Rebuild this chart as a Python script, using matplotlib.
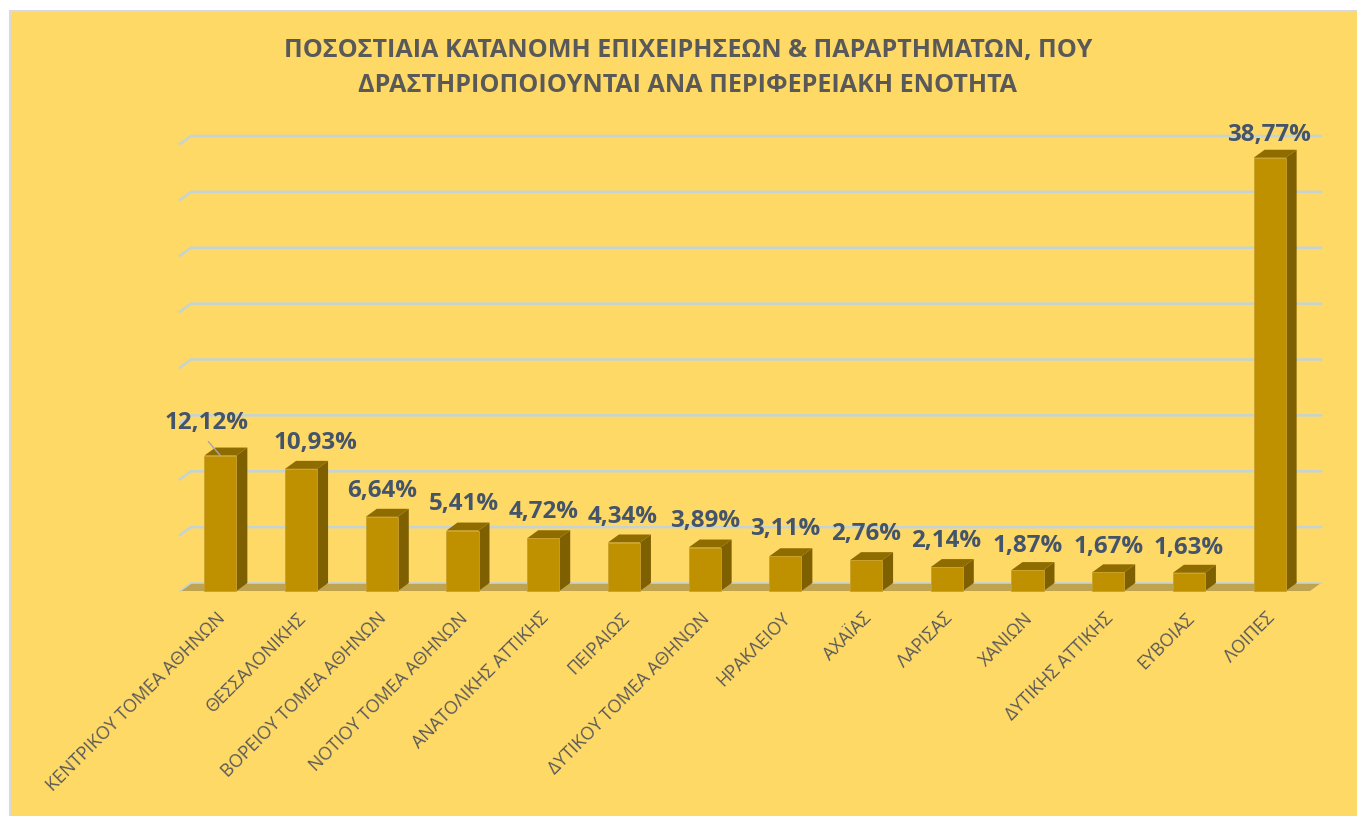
import matplotlib
matplotlib.use("Agg")
import matplotlib.pyplot as plt
from matplotlib.patches import Polygon, Rectangle
from matplotlib.transforms import ScaledTranslation

W, H = 1357, 816

categories = ["ΚΕΝΤΡΙΚΟΥ ΤΟΜΕΑ ΑΘΗΝΩΝ", "ΘΕΣΣΑΛΟΝΙΚΗΣ", "ΒΟΡΕΙΟΥ ΤΟΜΕΑ ΑΘΗΝΩΝ",
              "ΝΟΤΙΟΥ ΤΟΜΕΑ ΑΘΗΝΩΝ", "ΑΝΑΤΟΛΙΚΗΣ ΑΤΤΙΚΗΣ", "ΠΕΙΡΑΙΩΣ",
              "ΔΥΤΙΚΟΥ ΤΟΜΕΑ ΑΘΗΝΩΝ", "ΗΡΑΚΛΕΙΟΥ", "ΑΧΑΪΑΣ", "ΛΑΡΙΣΑΣ", "ΧΑΝΙΩΝ",
              "ΔΥΤΙΚΗΣ ΑΤΤΙΚΗΣ", "ΕΥΒΟΙΑΣ", "ΛΟΙΠΕΣ"]
values = [12.12, 10.93, 6.64, 5.41, 4.72, 4.34, 3.89, 3.11, 2.76, 2.14, 1.87, 1.67, 1.63, 38.77]
labels = ["12,12%", "10,93%", "6,64%", "5,41%", "4,72%", "4,34%", "3,89%", "3,11%",
          "2,76%", "2,14%", "1,87%", "1,67%", "1,63%", "38,77%"]
grid_values = [5, 10, 15, 20, 25, 30, 35, 40]

# label shift from the bar top, in pixels
label_dx = [-14, 14, 0, 1, 0, -1, 0, 0, 0, -1, 0, 0, 0, -1]
label_dy = [33, 26, 26, 27, 26, 26, 27, 27, 26, 26, 24, 25, 25, 23]

BG = "#FFD966"
FRONT = "#BF9000"
SIDE = "#7F6000"
TOP = "#8F6C00"
FLOOR = "#BFA34F"
GRID = "#C3D3D6"
LABEL = "#44546A"
TEXT = "#595959"

plt.rcParams["font.family"] = ["Open Sans", "DejaVu Sans"]

fig = plt.figure(figsize=(W / 100, H / 100), dpi=100, facecolor="white")
# card runs off the right and bottom edge of the image
fig.add_artist(Rectangle((10 / W, -5 / H), (W - 5) / W, (H - 6) / H, transform=fig.transFigure,
                         facecolor=BG, edgecolor="#D9D9D9", linewidth=1.5, zorder=-1))

# plot area in pixels: x 180-1310, value 0 at y=591, value 40 at y=144
left, right, y0, y40 = 180, 1310, 591, 144
ax = fig.add_axes([left / W, 1 - y0 / H, (right - left) / W, (y0 - y40) / H])
ax.set_xlim(0, len(categories))
ax.set_ylim(0, 40)
ax.patch.set_alpha(0)
for s in ax.spines.values():
    s.set_visible(False)

# 3d depth in data units
dx = 11 / ((right - left) / len(categories))
dy = 8 / ((y0 - y40) / 40)
n = len(categories)
bar_w = 32 / ((right - left) / n)

ax.add_patch(Polygon([(0, 0), (dx, dy), (n + dx, dy), (n, 0)], facecolor=FLOOR, edgecolor="none",
                     clip_on=False, zorder=1))
ax.plot([dx, n + dx], [dy, dy], color=GRID, lw=1.2, clip_on=False, zorder=1.5)
ax.plot([0, dx], [0, dy], color=GRID, lw=1.2, clip_on=False, zorder=1.5)
for g in grid_values:
    ax.plot([0, dx, n + dx], [g, g + dy, g + dy], color=GRID, lw=1.8, clip_on=False, zorder=1)

for i, v in enumerate(values):
    x0 = i + 0.5 - bar_w / 2
    x1 = i + 0.5 + bar_w / 2
    ax.add_patch(Polygon([(x1, 0), (x1 + dx, dy), (x1 + dx, v + dy), (x1, v)], facecolor=SIDE,
                         edgecolor="none", clip_on=False, zorder=2))
    ax.add_patch(Polygon([(x0, v), (x0 + dx, v + dy), (x1 + dx, v + dy), (x1, v)], facecolor=TOP,
                         edgecolor="none", clip_on=False, zorder=2))
    ax.add_patch(Rectangle((x0, 0), x1 - x0, v, facecolor=FRONT, edgecolor="#C9A02A", linewidth=0.6,
                           clip_on=False, zorder=3))
    ax.annotate(labels[i], (i + 0.5, v), xytext=(label_dx[i], label_dy[i]), textcoords="offset pixels",
                ha="center", va="center", fontsize=17.4, fontweight="bold", color=LABEL,
                annotation_clip=False, zorder=5)

# leader line of the first label
ax.annotate("", (0.5, values[0]), xytext=(-12, 14), textcoords="offset pixels",
            arrowprops=dict(arrowstyle="-", color="#A6A6A6", lw=1, shrinkA=0, shrinkB=0), zorder=4)

ax.set_yticks([])
ax.set_xticks([i + 0.5 for i in range(n)])
ax.set_xticklabels(categories, rotation=45, ha="right", va="top", rotation_mode="anchor",
                   fontsize=12.9, color=TEXT)
ax.tick_params(axis="x", length=0, pad=13)
for tl in ax.get_xticklabels():
    tl.set_transform(tl.get_transform() + ScaledTranslation(-4 / 100, 0, fig.dpi_scale_trans))

fig.text(688 / W, 1 - 51 / H, "ΠΟΣΟΣΤΙΑΙΑ ΚΑΤΑΝΟΜΗ ΕΠΙΧΕΙΡΗΣΕΩΝ & ΠΑΡΑΡΤΗΜΑΤΩΝ, ΠΟΥ",
         ha="center", va="center", fontsize=18.1, fontweight="bold", color=TEXT)
fig.text(688 / W, 1 - 86 / H, "ΔΡΑΣΤΗΡΙΟΠΟΙΟΥΝΤΑΙ ΑΝΑ ΠΕΡΙΦΕΡΕΙΑΚΗ ΕΝΟΤΗΤΑ",
         ha="center", va="center", fontsize=18.1, fontweight="bold", color=TEXT)

fig.savefig("out.png", dpi=100, facecolor="white")
